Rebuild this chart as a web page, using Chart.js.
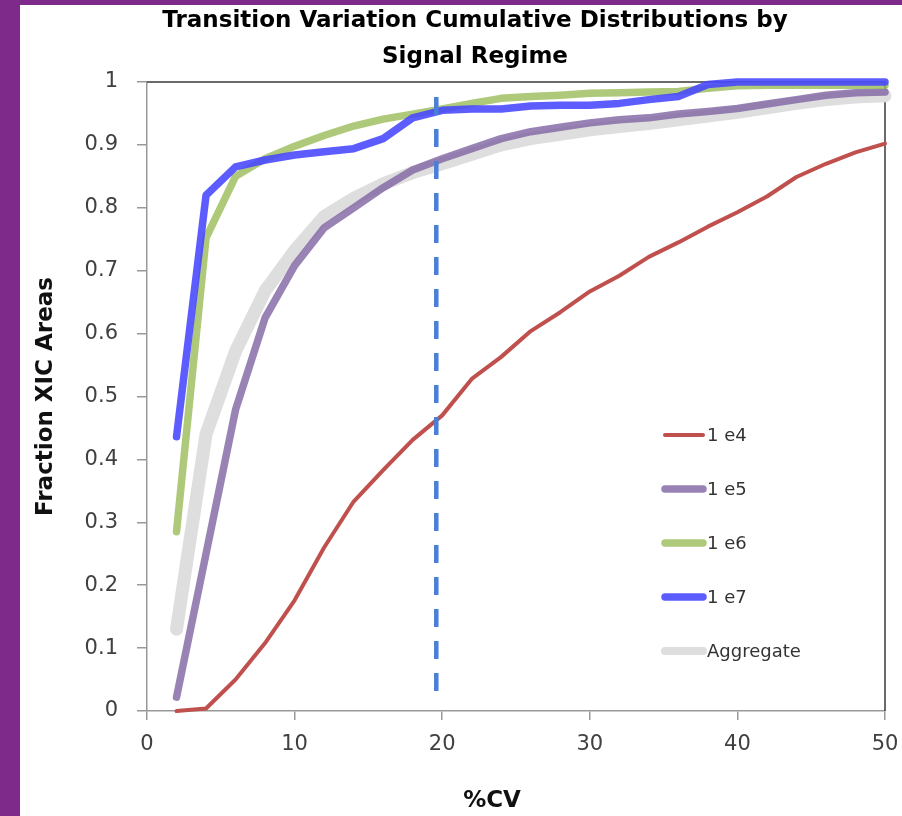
<!DOCTYPE html>
<html>
<head>
<meta charset="utf-8">
<script src="https://cdn.jsdelivr.net/npm/chart.js@4/dist/chart.umd.min.js"></script>
<style>
  html, body { margin: 0; padding: 0; background: #fff; }
  canvas { display: block; }
</style>
</head>
<body>
<canvas id="chart" width="902" height="816"></canvas>
<script>
// %CV bins (x) and cumulative fraction of XIC areas per signal regime (y)
const cvPercent = [2, 4, 6, 8, 10, 12, 14, 16, 18, 20, 22, 24, 26, 28, 30, 32, 34, 36, 38, 40, 42, 44, 46, 48, 50];
const regime1e4 = [0.000, 0.004, 0.050, 0.108, 0.176, 0.260, 0.333, 0.383, 0.431, 0.470, 0.528, 0.563, 0.604, 0.634, 0.667, 0.692, 0.722, 0.745, 0.770, 0.793, 0.818, 0.849, 0.870, 0.888, 0.902];
const regime1e5 = [0.022, 0.250, 0.479, 0.625, 0.708, 0.768, 0.800, 0.832, 0.860, 0.878, 0.894, 0.910, 0.921, 0.928, 0.935, 0.940, 0.943, 0.949, 0.953, 0.958, 0.965, 0.972, 0.979, 0.983, 0.984];
const regime1e6 = [0.285, 0.752, 0.850, 0.878, 0.898, 0.915, 0.930, 0.941, 0.949, 0.957, 0.966, 0.974, 0.977, 0.979, 0.982, 0.983, 0.984, 0.985, 0.990, 0.994, 0.995, 0.995, 0.995, 0.995, 0.995];
const regime1e7 = [0.436, 0.820, 0.865, 0.876, 0.884, 0.889, 0.894, 0.910, 0.943, 0.955, 0.957, 0.957, 0.962, 0.963, 0.963, 0.966, 0.972, 0.977, 0.996, 1.000, 1.000, 1.000, 1.000, 1.000, 1.000];
const aggregate = [0.130, 0.440, 0.572, 0.668, 0.732, 0.786, 0.815, 0.838, 0.856, 0.870, 0.885, 0.900, 0.910, 0.917, 0.924, 0.929, 0.934, 0.940, 0.946, 0.952, 0.959, 0.966, 0.972, 0.976, 0.978];

// 20% CV reference marker (x in %CV, y span in fraction)
const cutoffX = [19.6, 19.6];
const cutoffY = [0.976, 0.02];

const seriesNames = ['1 e4', '1 e5', '1 e6', '1 e7', 'Aggregate'];
const xTickLabels = ['0', '10', '20', '30', '40', '50'];
const yTickLabels = ['0', '0.1', '0.2', '0.3', '0.4', '0.5', '0.6', '0.7', '0.8', '0.9', '1'];
const titleLines = ['Transition Variation Cumulative Distributions by', 'Signal Regime'];
const xAxisTitle = '%CV';
const yAxisTitle = 'Fraction XIC Areas';

const FONT = "'DejaVu Sans', sans-serif";

function toPoints(xs, ys) {
  return xs.map((x, i) => ({ x: x, y: ys[i] }));
}

function lineSet(label, values, color, width) {
  return {
    label: label,
    data: toPoints(cvPercent, values),
    borderColor: color,
    borderWidth: width,
    borderCapStyle: 'round',
    borderJoinStyle: 'round',
    pointRadius: 0,
    fill: false,
    tension: 0,
    clip: false
  };
}

// index 0 is painted last (on top)
const datasets = [
  {
    label: 'cutoff',
    data: toPoints(cutoffX, cutoffY),
    borderColor: '#4a7fd8',
    borderWidth: 4.5,
    borderDash: [18, 14],
    borderCapStyle: 'butt',
    pointRadius: 0,
    fill: false,
    clip: false
  },
  lineSet(seriesNames[0], regime1e4, '#c0504d', 4),
  lineSet(seriesNames[3], regime1e7, 'rgba(70,70,255,0.88)', 7.5),
  lineSet(seriesNames[2], regime1e6, 'rgba(155,187,89,0.8)', 7.5),
  lineSet(seriesNames[1], regime1e5, 'rgba(128,100,162,0.8)', 7.5),
  lineSet(seriesNames[4], aggregate, '#dedede', 13)
];

// page frame, plot border and headline text
const framePlugin = {
  id: 'frame',
  beforeDraw(chart) {
    const ctx = chart.ctx;
    ctx.save();
    ctx.fillStyle = '#7d2a8b';
    ctx.fillRect(0, 0, chart.width, chart.height);
    ctx.fillStyle = '#ffffff';
    ctx.fillRect(20, 5, chart.width - 20, chart.height - 5);
    ctx.restore();
  },
  beforeDatasetsDraw(chart) {
    const { ctx, chartArea: a } = chart;
    ctx.save();
    ctx.strokeStyle = '#3a3a3a';
    ctx.lineWidth = 1.5;
    ctx.beginPath();
    ctx.moveTo(a.left, a.top);
    ctx.lineTo(a.right, a.top);
    ctx.lineTo(a.right, a.bottom);
    ctx.stroke();
    ctx.restore();
  },
  afterDraw(chart) {
    const ctx = chart.ctx;
    ctx.save();
    ctx.fillStyle = '#000';
    ctx.font = 'bold 23px ' + FONT;
    ctx.textAlign = 'center';
    ctx.textBaseline = 'middle';
    titleLines.forEach((line, i) => ctx.fillText(line, 475, 21 + i * 36));
    ctx.fillStyle = '#111';
    ctx.fillText(xAxisTitle, 492, 801);
    ctx.restore();
  }
};

// legend placed inside the plot area
const legendPlugin = {
  id: 'innerLegend',
  afterDatasetsDraw(chart) {
    const ctx = chart.ctx;
    const x0 = 665, x1 = 703, top = 435, step = 54;
    ctx.save();
    ctx.font = '18px ' + FONT;
    ctx.textBaseline = 'middle';
    ctx.textAlign = 'left';
    seriesNames.forEach((name, i) => {
      const ds = chart.data.datasets.find(d => d.label === name);
      const y = top + i * step;
      ctx.strokeStyle = ds.borderColor;
      ctx.lineWidth = Math.min(ds.borderWidth, 8);
      ctx.lineCap = 'round';
      ctx.beginPath();
      ctx.moveTo(x0, y);
      ctx.lineTo(x1, y);
      ctx.stroke();
      ctx.fillStyle = '#333';
      ctx.fillText(name, x1 + 4, y + 1);
    });
    ctx.restore();
  }
};

new Chart(document.getElementById('chart'), {
  type: 'line',
  data: { datasets: datasets },
  plugins: [framePlugin, legendPlugin],
  options: {
    responsive: false,
    animation: false,
    devicePixelRatio: 1,
    layout: { padding: { top: 82, left: 20, right: 17, bottom: 0 } },
    plugins: {
      legend: { display: false },
      title: { display: false },
      tooltip: { enabled: false }
    },
    scales: {
      x: {
        type: 'linear',
        min: 0,
        max: 50,
        afterFit(scale) {
          scale.height = 105;
          scale.paddingLeft = 0;
          scale.paddingRight = 0;
        },
        ticks: {
          stepSize: 10,
          padding: 12,
          color: '#404040',
          font: { family: FONT, size: 21 },
          callback: (v, i) => xTickLabels[i]
        },
        grid: { drawOnChartArea: false, drawTicks: true, tickLength: 9, color: '#999', lineWidth: 1.5 },
        border: { color: '#999', width: 1.5 },
        title: { display: false }
      },
      y: {
        type: 'linear',
        min: 0,
        max: 1,
        afterFit(scale) { scale.width = 127; },
        ticks: {
          stepSize: 0.1,
          padding: 19,
          color: '#404040',
          font: { family: FONT, size: 21 },
          callback: (v, i) => yTickLabels[i]
        },
        grid: { drawOnChartArea: false, drawTicks: true, tickLength: 10, color: '#999', lineWidth: 1.5 },
        border: { color: '#999', width: 1.5 },
        title: {
          display: true,
          text: yAxisTitle,
          color: '#111',
          font: { family: FONT, size: 23, weight: 'bold' },
          padding: { top: 12, bottom: 0 }
        }
      }
    }
  }
});
</script>
</body>
</html>
